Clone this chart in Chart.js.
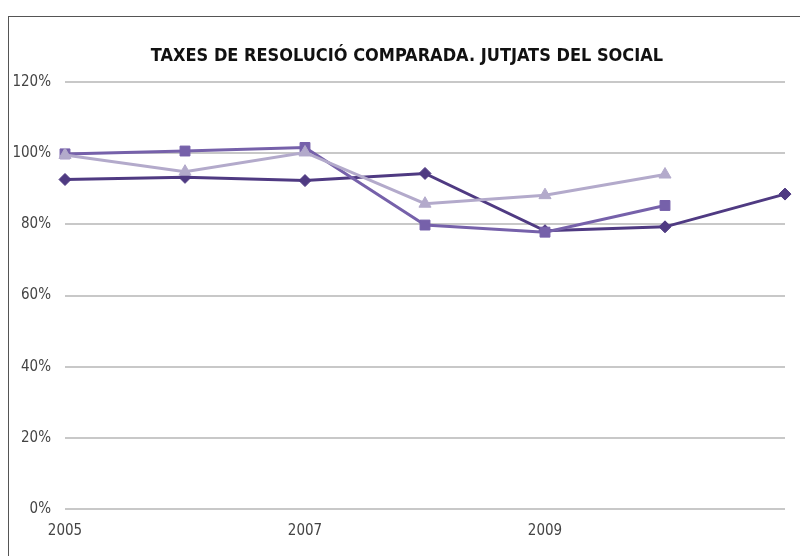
<!DOCTYPE html>
<html>
<head>
<meta charset="utf-8">
<script src="https://cdn.jsdelivr.net/npm/chart.js@4"></script>
<style>
    html, body { margin: 0; padding: 0; background: #fff; }
    #frame {
        position: absolute; left: 8px; top: 16px; width: 792px; height: 540px;
        border-top: 1px solid #555; border-left: 1px solid #555;
    }
    #wrap { position: absolute; left: 0; top: 0; width: 800px; height: 556px; }
    #title {
        position: absolute; left: 207px; top: 44px; width: 400px; text-align: center;
        white-space: nowrap; overflow: visible;
        font: bold 18px "Liberation Sans Narrow", "DejaVu Sans Condensed", sans-serif;
        color: #111; line-height: 22px;
    }
    #title span { display: inline-block; margin: 0 -100px; }
</style>
</head>
<body>
<div id="frame"></div>
<div id="wrap"><canvas id="chart" width="800" height="556"></canvas></div>
<div id="title"><span>TAXES DE RESOLUCIÓ COMPARADA. JUTJATS DEL SOCIAL</span></div>
<script>
const years = ['2005', '2006', '2007', '2008', '2009', '2010', '2011'];
const shownYears = ['2005', '2007', '2009'];
const seriesDiamond = [92.6, 93.2, 92.3, 94.3, 78.2, 79.3, 88.5];
const seriesSquare = [99.8, 100.6, 101.6, 79.8, 77.8, 85.3, null];
const seriesTriangle = [99.5, 94.8, 100.2, 85.8, 88.2, 94.0, null];
const yTicks = [0, 20, 40, 60, 80, 100, 120];

const fontFamily = '"Liberation Sans Narrow", "DejaVu Sans Condensed", sans-serif';

function lineSet(data, color, style, radius, order) {
    return {
        data: data,
        borderColor: color,
        backgroundColor: color,
        borderWidth: 3,
        pointStyle: style,
        pointRadius: radius,
        pointBorderWidth: 1,
        pointBorderColor: color,
        tension: 0,
        spanGaps: false,
        order: order
    };
}

new Chart(document.getElementById('chart'), {
    type: 'line',
    data: {
        labels: years,
        datasets: [
            lineSet(seriesDiamond, '#4f3a82', 'rectRot', 6, 3),
            lineSet(seriesSquare, '#7661aa', 'rect', 7, 2),
            lineSet(seriesTriangle, '#b3aacb', 'triangle', 7, 1)
        ]
    },
    options: {
        responsive: false,
        animation: false,
        layout: { padding: { left: 8, right: 15, top: 82, bottom: 11 } },
        plugins: {
            legend: { display: false },
            tooltip: { enabled: false },
            title: { display: false }
        },
        scales: {
            x: {
                offset: false,
                grid: { display: false },
                border: { display: false },
                ticks: {
                    color: '#444',
                    font: { family: fontFamily, size: 15 },
                    maxRotation: 0,
                    autoSkip: false,
                    padding: 5,
                    callback: function (v, i) {
                        const y = years[i];
                        return shownYears.includes(y) ? y : '';
                    }
                }
            },
            y: {
                min: 0,
                max: 120,
                afterBuildTicks: s => { s.ticks = yTicks.map(v => ({ value: v })); },
                afterFit: s => { s.width = 57; },
                grid: { color: '#c8c8c8', lineWidth: 2, drawTicks: false },
                border: { display: false },
                ticks: {
                    color: '#444',
                    font: { family: fontFamily, size: 15 },
                    padding: 14,
                    callback: v => v + '%'
                }
            }
        }
    }
});
</script>
</body>
</html>
